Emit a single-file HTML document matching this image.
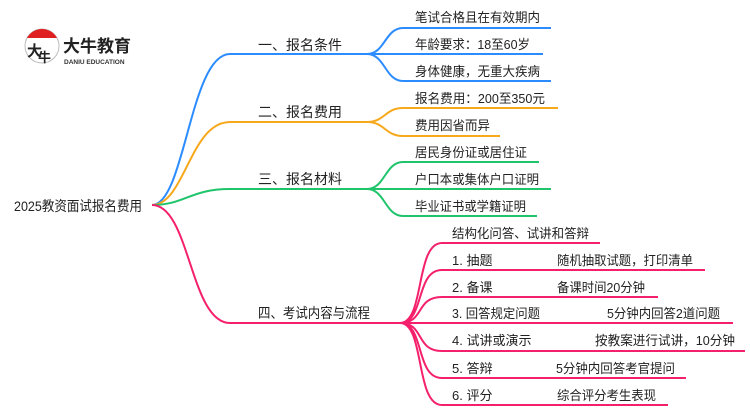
<!DOCTYPE html>
<html><head><meta charset="utf-8"><style>
html,body{margin:0;padding:0;background:#fff;}
svg{display:block}
text{font-family:"Liberation Sans","Noto Sans CJK SC",sans-serif;font-size:13px;fill:#222;}
</style></head><body>
<svg width="750" height="410" viewBox="0 0 750 410" xmlns="http://www.w3.org/2000/svg">
<circle cx="42" cy="46" r="17" fill="#fff" stroke="#bbb" stroke-width="1"/>
<path d="M27 38 A17 17 0 0 1 57 38 Z" fill="#e02020"/>
<text x="27" y="56" style="font-size:15px;font-weight:bold;fill:#222">大</text>
<text x="38" y="62" style="font-size:13px;font-weight:bold;fill:#222">牛</text>
<text x="63" y="52" style="font-size:17px;font-weight:bold;fill:#222">大牛教育</text>
<text x="64" y="64" style="font-size:6.5px;font-weight:bold;fill:#333">DANIU EDUCATION</text>

<text x="14" y="211" textLength="128" lengthAdjust="spacingAndGlyphs" style="font-size:14px">2025教资面试报名费用</text>
<g fill="none" stroke-width="2">
<path d="M152 205 C185 205 190 54 230 54 L367 54" stroke="#2b8cff"/>
<path d="M367 54 C385 54 385 28 403 28 L551 28 M367 54 L543 54 M367 54 C385 54 385 81 403 81 L551 81" stroke="#2b8cff"/>
<path d="M152 205 C185 205 190 122 230 122 L367 122" stroke="#f7a81b"/>
<path d="M367 122 C385 122 385 108 403 108 L558 108 M367 122 C385 122 385 136 403 136 L500 136" stroke="#f7a81b"/>
<path d="M152 205 C185 205 190 189 230 189 L367 189" stroke="#1fc46b"/>
<path d="M367 189 C385 189 385 162 403 162 L539 162 M367 189 L551 189 M367 189 C385 189 385 216 403 216 L537 216" stroke="#1fc46b"/>
<path d="M152 205 C190 205 190 323 230 323 L400 323" stroke="#f5206c"/>
<path d="M400 323 C425 323 415 243 442 243 L600 243
M400 323 C425 323 415 270 442 270 L705 270
M400 323 C425 323 415 297 442 297 L658 297
M400 323 L733 323
M400 323 C425 323 415 351 442 351 L745 351
M400 323 C425 323 415 378 442 378 L686 378
M400 323 C425 323 415 405 442 405 L668 405" stroke="#f5206c"/>
</g>
<text x="258" y="50" style="font-size:14px">一、报名条件</text>
<text x="258" y="117" style="font-size:14px">二、报名费用</text>
<text x="258" y="184" style="font-size:14px">三、报名材料</text>
<text x="258" y="318" style="font-size:14px" textLength="112" lengthAdjust="spacingAndGlyphs">四、考试内容与流程</text>

<text x="415" y="22" textLength="125" lengthAdjust="spacingAndGlyphs">笔试合格且在有效期内</text>
<text x="415" y="49" textLength="115" lengthAdjust="spacingAndGlyphs">年龄要求：18至60岁</text>
<text x="415" y="76" textLength="125" lengthAdjust="spacingAndGlyphs">身体健康，无重大疾病</text>
<text x="415" y="103" textLength="130" lengthAdjust="spacingAndGlyphs">报名费用：200至350元</text>
<text x="415" y="130" textLength="75" lengthAdjust="spacingAndGlyphs">费用因省而异</text>
<text x="415" y="157" textLength="112" lengthAdjust="spacingAndGlyphs">居民身份证或居住证</text>
<text x="415" y="184" textLength="124" lengthAdjust="spacingAndGlyphs">户口本或集体户口证明</text>
<text x="415" y="211" textLength="111" lengthAdjust="spacingAndGlyphs">毕业证书或学籍证明</text>

<text x="452" y="238" textLength="137" lengthAdjust="spacingAndGlyphs">结构化问答、试讲和答辩</text>
<text x="452" y="265">1. 抽题</text><text x="557" y="265" textLength="136" lengthAdjust="spacingAndGlyphs">随机抽取试题，打印清单</text>
<text x="452" y="292">2. 备课</text><text x="557" y="292" textLength="88" lengthAdjust="spacingAndGlyphs">备课时间20分钟</text>
<text x="452" y="318" textLength="88" lengthAdjust="spacingAndGlyphs">3. 回答规定问题</text><text x="607" y="318" textLength="113" lengthAdjust="spacingAndGlyphs">5分钟内回答2道问题</text>
<text x="452" y="345">4. 试讲或演示</text><text x="595" y="345" textLength="140" lengthAdjust="spacingAndGlyphs">按教案进行试讲，10分钟</text>
<text x="452" y="373">5. 答辩</text><text x="556" y="373" textLength="119" lengthAdjust="spacingAndGlyphs">5分钟内回答考官提问</text>
<text x="452" y="400">6. 评分</text><text x="557" y="400" textLength="99" lengthAdjust="spacingAndGlyphs">综合评分考生表现</text>
</svg>
</body></html>
